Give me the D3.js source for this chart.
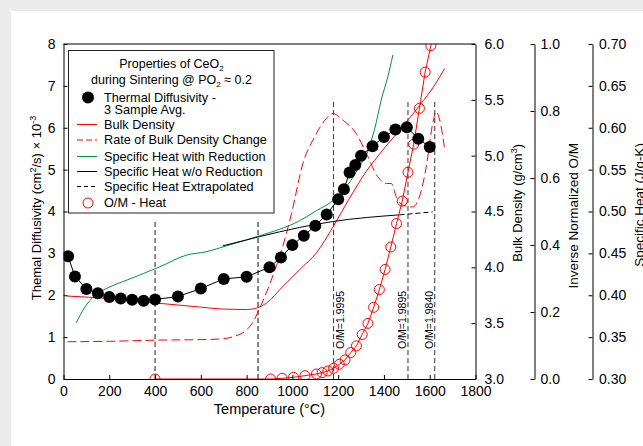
<!DOCTYPE html>
<html><head><meta charset="utf-8">
<script src="https://cdn.jsdelivr.net/npm/d3@7"></script>
<style>
body{margin:0;background:#ebebeb}
svg{display:block}
text{font-family:"Liberation Sans",Arial,Helvetica,sans-serif;fill:#000}
</style>
</head><body>
<svg id="c" width="643" height="446"></svg>
<script>
// ---------------- DATA ----------------
const tdTemps  = [20,50,100,150,200,250,300,350,400,500,600,700,800,900,950,1000,1050,1100,1150,1200,1225,1250,1275,1300,1350,1400,1450,1500,1550,1600];
const tdValues = [2.93,2.45,2.15,2.05,1.96,1.92,1.89,1.87,1.90,1.97,2.16,2.39,2.44,2.67,2.90,3.20,3.42,3.66,3.93,4.29,4.53,4.93,5.11,5.33,5.56,5.78,5.96,6.01,5.74,5.54];

const densTemps  = [15,203,407,566,712,799,850,887,959,1032,1105,1177,1250,1323,1395,1505,1556,1624,1665];
const densValues = [3.743,3.72,3.68,3.65,3.625,3.622,3.64,3.68,3.83,3.98,4.13,4.36,4.62,4.86,5.05,5.32,5.45,5.64,5.78];

const rateTemps  = [17,200,421,600,683,741,799,830,857,900,930,966,996,1046,1097,1148,1177,1221,1279,1323,1373,1410,1432,1454,1483,1526,1555,1585,1613,1628,1650,1664];
const rateValues = [0.89,0.90,0.93,0.94,0.955,1.01,1.17,1.38,1.69,2.25,2.7,3.32,3.95,5.15,5.78,6.22,6.34,6.18,5.86,5.39,4.83,4.67,4.67,4.35,4.15,4.11,4.35,5.07,6.10,6.38,6.02,5.54];

const cpRedTemps  = [55,94,130,203,276,421,538,625,712,799,857,1032,1105,1177,1250,1300,1323,1345,1359,1388,1417,1439];
const cpRedValues = [0.367,0.386,0.398,0.410,0.418,0.434,0.448,0.452,0.459,0.466,0.471,0.489,0.501,0.513,0.535,0.557,0.567,0.585,0.598,0.633,0.661,0.687];

const cpNoRedTemps  = [696,857,1032,1176,1468];
const cpNoRedValues = [0.459,0.470,0.481,0.488,0.496];

const cpExtTemps  = [1468,1613];
const cpExtValues = [0.496,0.4995];

const omTemps  = [400,905,955,1005,1055,1105,1130,1155,1180,1205,1230,1255,1280,1305,1330,1355,1380,1405,1430,1455,1480,1505,1530,1555,1580,1605,1630];
const omValues = [0,0,0.002,0.005,0.010,0.015,0.019,0.024,0.032,0.044,0.057,0.079,0.099,0.133,0.166,0.214,0.267,0.327,0.394,0.464,0.531,0.617,0.701,0.808,0.916,0.995,1.09];

const vLinesLow  = [400,850];        // short dashed markers
const vLowTop    = 3.8;              // in diffusivity units
const vLinesHigh = [1180,1505,1622]; // O/M markers
const vHighTop   = 6.66;
const omLabels   = ["O/M=1.9995","O/M=1.9895","O/M=1.9840"];
const omLabelSide= ["right","left","left"];

const xTicks   = [0,200,400,600,800,1000,1200,1400,1600,1800];
const tdTicks  = [0,1,2,3,4,5,6,7,8];
const densTicks= [3.0,3.5,4.0,4.5,5.0,5.5,6.0];
const omTicks  = [0,0.2,0.4,0.6,0.8,1.0];
const cpTicks  = [0.30,0.35,0.40,0.45,0.50,0.55,0.60,0.65,0.70];

const legendItems = [
  {type:"dot",   label:["Thermal Diffusivity -","3 Sample Avg."]},
  {type:"line",  color:"#ff0000", dash:null, label:["Bulk Density"]},
  {type:"line",  color:"#ff0000", dash:"6,3", label:["Rate of Bulk Density Change"]},
  {type:"line",  color:"#00913a", dash:null, label:["Specific Heat with Reduction"]},
  {type:"line",  color:"#000", dash:null, label:["Specific Heat w/o Reduction"]},
  {type:"line",  color:"#000", dash:"4,3", label:["Specific Heat Extrapolated"]},
  {type:"circle",label:["O/M - Heat"]}
];

// ---------------- LAYOUT ----------------
const svg = d3.select("#c");
svg.append("rect").attr("x",11).attr("y",11).attr("width",632).attr("height",435).attr("fill","#fff");

const L=63.5, R=475.5, T=44, B=379;
const x  = d3.scaleLinear().domain([0,1800]).range([L,R]);
const yL = d3.scaleLinear().domain([0,8]).range([B,T]);
const yB = d3.scaleLinear().domain([3,6]).range([B,T]);
const yO = d3.scaleLinear().domain([0,1]).range([B,T]);
const yC = d3.scaleLinear().domain([0.3,0.7]).range([B,T]);

svg.append("defs").append("clipPath").attr("id","clip")
  .append("rect").attr("x",L).attr("y",T).attr("width",R-L).attr("height",B-T);

const gData = svg.append("g").attr("clip-path","url(#clip)");

// vertical dashed markers
vLinesLow.forEach(t=>{
  gData.append("line").attr("x1",x(t)).attr("x2",x(t)).attr("y1",yL(0)).attr("y2",yL(vLowTop))
    .attr("stroke",t===850?"#666":"#222").attr("stroke-width",t===850?1.6:1).attr("stroke-dasharray","5,3");
});
vLinesHigh.forEach((t,i)=>{
  gData.append("line").attr("x1",x(t)).attr("x2",x(t)).attr("y1",yL(0)).attr("y2",yL(vHighTop))
    .attr("stroke","#333").attr("stroke-width",1).attr("stroke-dasharray","5,3");
  const bx = omLabelSide[i]==="right" ? x(t)+10.5 : x(t)-1.5;
  svg.append("text").attr("transform",`translate(${bx},349) rotate(-90)`)
    .attr("font-size","10.5px").text(omLabels[i]);
});

const line = (xs,ys,ysc)=>d3.line().x((d,i)=>x(xs[i])).y((d,i)=>ysc(ys[i])).curve(d3.curveMonotoneX)(xs);

// rate of bulk density change
gData.append("path").attr("d",line(rateTemps,rateValues,yL)).attr("fill","none")
  .attr("stroke","#ff0000").attr("stroke-width",1).attr("stroke-dasharray","9,4");
// bulk density
gData.append("path").attr("d",line(densTemps,densValues,yB)).attr("fill","none")
  .attr("stroke","#ff0000").attr("stroke-width",1);
// specific heat with reduction
gData.append("path").attr("d",line(cpRedTemps,cpRedValues,yC)).attr("fill","none")
  .attr("stroke","#00913a").attr("stroke-width",1);
// w/o reduction
gData.append("path").attr("d",line(cpNoRedTemps,cpNoRedValues,yC)).attr("fill","none")
  .attr("stroke","#000").attr("stroke-width",1);
gData.append("path").attr("d",line(cpExtTemps,cpExtValues,yC)).attr("fill","none")
  .attr("stroke","#000").attr("stroke-width",1).attr("stroke-dasharray","5,3");

// O/M
gData.append("path").attr("d",d3.line().x((d,i)=>x(omTemps[i])).y((d,i)=>yO(omValues[i]))(omTemps))
  .attr("fill","none").attr("stroke","#ff0000").attr("stroke-width",1);
gData.selectAll("circle.om").data(omTemps).join("circle").attr("class","om")
  .attr("cx",d=>x(d)).attr("cy",(d,i)=>yO(omValues[i])).attr("r",5)
  .attr("fill","none").attr("stroke","#ff0000").attr("stroke-width",1);

// thermal diffusivity
gData.append("path").attr("d",d3.line().x((d,i)=>x(tdTemps[i])).y((d,i)=>yL(tdValues[i]))(tdTemps))
  .attr("fill","none").attr("stroke","#000").attr("stroke-width",1);
gData.selectAll("circle.td").data(tdTemps).join("circle").attr("class","td")
  .attr("cx",d=>x(d)).attr("cy",(d,i)=>yL(tdValues[i])).attr("r",6).attr("fill","#000");

// ---------------- AXES ----------------
const styleAxis = g=>{
  g.selectAll("path.domain").attr("stroke","#000").attr("stroke-width",1);
  g.selectAll(".tick line").attr("stroke","#000");
  g.selectAll(".tick text").attr("font-size","14px").attr("font-family","'Liberation Sans',Arial,sans-serif").attr("fill","#000");
};
svg.append("line").attr("x1",L).attr("x2",R).attr("y1",T).attr("y2",T).attr("stroke","#000");
svg.append("g").attr("transform",`translate(0,${B})`)
  .call(d3.axisBottom(x).tickValues(xTicks).tickFormat(d3.format("d")).tickSizeInner(-4).tickSizeOuter(0).tickPadding(7)).call(styleAxis);
svg.append("g").attr("transform",`translate(${L},0)`)
  .call(d3.axisLeft(yL).tickValues(tdTicks).tickFormat(d3.format("d")).tickSizeInner(-4).tickSizeOuter(0).tickPadding(8)).call(styleAxis);
svg.append("g").attr("transform",`translate(${R},0)`)
  .call(d3.axisRight(yB).tickValues(densTicks).tickFormat(d3.format(".1f")).tickSizeInner(-4).tickSizeOuter(0).tickPadding(9)).call(styleAxis);
svg.append("g").attr("transform",`translate(534.5,0)`)
  .call(d3.axisRight(yO).tickValues(omTicks).tickFormat(d3.format(".1f")).tickSizeInner(-4).tickSizeOuter(0).tickPadding(6)).call(styleAxis);
svg.append("g").attr("transform",`translate(592.5,0)`)
  .call(d3.axisRight(yC).tickValues(cpTicks).tickFormat(d3.format(".2f")).tickSizeInner(-4).tickSizeOuter(0).tickPadding(6.5)).call(styleAxis);

// axis titles
svg.append("text").attr("x",(L+R)/2).attr("y",414).attr("text-anchor","middle").attr("font-size","14.5px").text("Temperature (°C)");

const lt = svg.append("text").attr("transform","translate(41,208) rotate(-90)").attr("text-anchor","middle").attr("font-size","13px");
lt.append("tspan").text("Themal Diffusivity (cm");
lt.append("tspan").attr("font-size","9px").attr("dy",-5).text("2");
lt.append("tspan").attr("dy",5).text("/s) × 10");
lt.append("tspan").attr("font-size","9px").attr("dy",-5).text("-3");

const bt = svg.append("text").attr("transform","translate(521.5,144) rotate(-90)").attr("text-anchor","end").attr("font-size","13px");
bt.append("tspan").text("Bulk Density (g/cm");
bt.append("tspan").attr("font-size","9px").attr("dy",-5).text("3");
bt.append("tspan").attr("dy",5).text(")");

svg.append("text").attr("transform","translate(577.5,143) rotate(-90)").attr("text-anchor","end").attr("font-size","13.5px").text("Inverse Normalized O/M");
svg.append("text").attr("transform","translate(643.5,143) rotate(-90)").attr("text-anchor","end").attr("font-size","13.5px").text("Specific Heat (J/g-K)");

// ---------------- LEGEND ----------------
const lg = svg.append("g");
lg.append("rect").attr("x",68.5).attr("y",50.5).attr("width",205.5).attr("height",162.5)
  .attr("fill","#fff").attr("stroke","#222").attr("stroke-width",1);
const t1 = lg.append("text").attr("x",171.5).attr("y",68).attr("text-anchor","middle").attr("font-size","12.5px");
t1.append("tspan").text("Properties of CeO");
t1.append("tspan").attr("font-size","8px").attr("dy",3).text("2");
const t2 = lg.append("text").attr("x",171.5).attr("y",84).attr("text-anchor","middle").attr("font-size","12.5px");
t2.append("tspan").text("during Sintering @ PO");
t2.append("tspan").attr("font-size","8px").attr("dy",3).text("2");
t2.append("tspan").attr("dy",-3).text(" ≈ 0.2");

const rowY = [97.5,124.5,140,156.5,171.5,186.5,203];
legendItems.forEach((it,i)=>{
  const cy = rowY[i];
  if(it.type==="dot") lg.append("circle").attr("cx",88).attr("cy",cy).attr("r",6).attr("fill","#000");
  else if(it.type==="circle") lg.append("circle").attr("cx",88).attr("cy",cy).attr("r",5).attr("fill","none").attr("stroke","#ff0000");
  else lg.append("line").attr("x1",77).attr("x2",97).attr("y1",cy).attr("y2",cy).attr("stroke",it.color)
        .attr("stroke-width",1).attr("stroke-dasharray",it.dash);
  it.label.forEach((s,j)=>{
    lg.append("text").attr("x",104).attr("y",cy+4.3+j*12.3).attr("font-size","12.7px").text(s);
  });
});
</script>
</body></html>
